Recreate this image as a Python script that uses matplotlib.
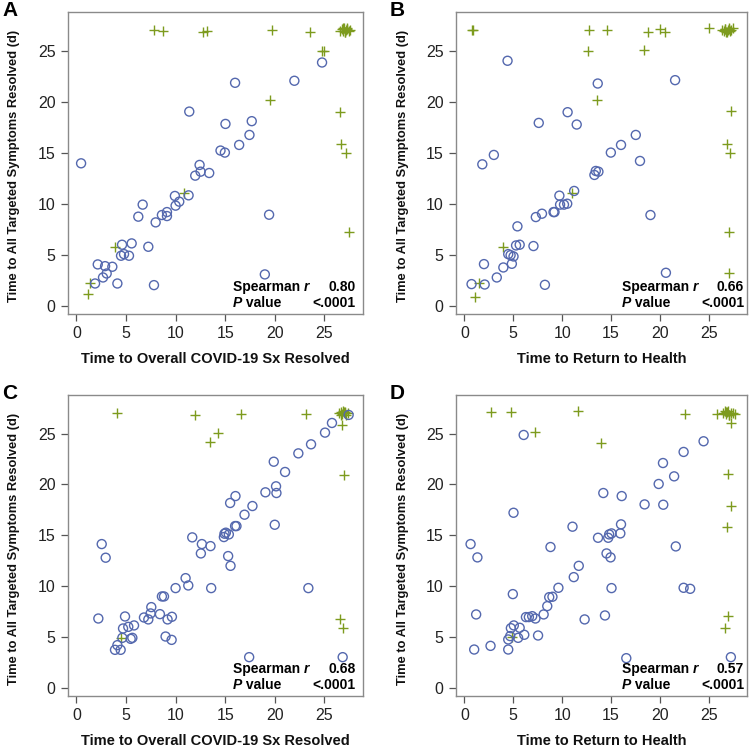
import matplotlib
matplotlib.use("Agg")
import matplotlib.pyplot as plt
from matplotlib.transforms import offset_copy

plt.rcParams['font.family'] = ['Liberation Sans', 'DejaVu Sans']

BLUE = '#5468ae'
GREEN = '#7d9b1e'

# ---- Panel A: Overall COVID-19 Sx resolved vs all targeted symptoms resolved
a_circ_x = [0.47, 2.15, 1.88, 2.89, 2.68, 3.05, 3.62, 4.13, 4.6, 4.5, 4.8, 5.3, 5.57, 6.24,
            6.68, 7.25, 7.82, 7.99, 8.62, 9.13, 9.13, 9.93, 10.0, 10.37, 11.31, 11.38, 11.98,
            12.42, 12.52, 13.39, 14.53, 14.97, 15.03, 16.0, 16.41, 17.45, 17.68, 19.43, 19.0,
            21.98, 24.77]
a_circ_y = [13.97, 4.06, 2.19, 3.89, 2.78, 3.17, 3.83, 2.19, 5.99, 4.91, 5.07, 4.91, 6.12, 8.74,
            9.92, 5.79, 2.03, 8.18, 8.9, 9.19, 8.8, 10.77, 9.82, 10.21, 10.83, 19.04, 12.76,
            13.81, 13.15, 13.02, 15.22, 15.02, 17.83, 21.86, 15.77, 16.75, 18.1, 8.93, 3.08,
            22.06, 23.85]
a_plus_x = [7.82, 8.69, 12.75, 13.12, 19.7, 23.52, 24.73, 24.93, 19.56, 26.54, 26.71, 27.21,
            27.45, 3.89, 1.38, 1.21, 10.87,
            26.6, 26.75, 26.9, 27.0, 27.1, 27.2, 27.3, 27.45, 27.6, 26.85, 27.05, 27.25]
a_plus_y = [27.0, 26.93, 26.83, 26.9, 27.0, 26.83, 25.0, 25.0, 20.19, 19.01, 15.87, 14.99,
            7.23, 5.79, 2.19, 1.15, 11.03,
            26.9, 27.1, 26.95, 27.2, 26.85, 27.05, 27.15, 26.95, 27.0, 27.25, 26.8, 27.2]

# ---- Panel B: Return to health vs all targeted symptoms resolved
b_circ_x = [0.74, 1.84, 2.01, 2.08, 3.02, 3.32, 3.99, 4.42, 4.49, 4.73, 5.03, 4.86, 5.43, 5.29,
            5.66, 7.07, 7.31, 7.61, 7.94, 8.24, 9.12, 9.22, 9.72, 9.79, 10.19, 10.52, 10.56,
            11.23, 11.49, 13.3, 13.44, 13.71, 13.64, 14.98, 16.02, 17.53, 17.96, 19.03, 20.61,
            21.55]
b_circ_y = [2.13, 13.87, 4.09, 2.09, 14.79, 2.78, 3.76, 24.02, 5.07, 4.97, 4.84, 4.12, 7.79, 5.92,
            5.99, 5.86, 8.7, 17.93, 9.03, 2.06, 9.19, 9.19, 10.8, 9.92, 9.92, 10.01, 18.98,
            11.26, 17.77, 12.83, 13.22, 13.15, 21.79, 15.02, 15.77, 16.75, 14.2, 8.9, 3.24,
            22.12]
b_plus_x = [0.74, 0.9, 12.73, 12.67, 14.54, 13.57, 18.73, 18.4, 20.04, 20.48, 24.97, 27.45,
            27.28, 26.81, 27.21, 27.08, 27.04, 3.95, 1.51, 1.07, 10.99,
            26.3, 26.5, 26.65, 26.8, 26.95, 27.05, 27.15, 27.3, 26.6, 26.9, 27.1]
b_plus_y = [27.0, 27.0, 27.0, 25.0, 27.0, 20.19, 26.83, 25.1, 27.13, 26.83, 27.23, 27.23,
            19.11, 15.84, 14.99, 7.2, 3.24, 5.79, 2.26, 0.85, 11.03,
            27.0, 26.9, 27.1, 26.85, 27.05, 27.2, 26.9, 27.0, 27.15, 26.8, 27.1]

# ---- Panel C
c_circ_x = [2.21, 2.55, 2.95, 3.89, 4.13, 4.46, 4.63, 4.7, 4.9, 5.23, 5.47, 5.64, 5.81, 6.81,
            7.25, 7.48, 7.55, 8.42, 8.62, 8.83, 8.99, 9.19, 9.63, 9.6, 10.0, 11.01, 11.28,
            11.68, 12.65, 12.55, 13.52, 13.59, 14.87, 14.93, 15.07, 15.37, 15.3, 15.54, 15.5,
            16.0, 16.14, 16.04, 16.95, 17.75, 17.42, 19.06, 20.0, 20.17, 20.13, 19.9, 21.04,
            22.38, 23.39, 23.66, 25.07, 25.77, 27.45, 26.85]
c_circ_y = [6.82, 14.14, 12.8, 3.74, 4.2, 3.74, 4.92, 5.84, 7.02, 6.0, 4.82, 4.92, 6.14, 6.92,
            6.73, 7.32, 7.94, 7.25, 8.99, 8.99, 5.05, 6.73, 6.99, 4.72, 9.81, 10.79, 10.07,
            14.8, 14.14, 13.22, 13.94, 9.81, 14.83, 15.16, 15.26, 15.09, 12.96, 12.0, 18.18,
            15.91, 15.91, 18.86, 17.03, 17.88, 3.02, 19.23, 16.04, 19.16, 19.82, 22.24, 21.23,
            23.06, 9.81, 23.95, 25.1, 26.05, 26.84, 3.02]
c_plus_x = [4.13, 11.95, 16.61, 23.12, 13.49, 14.23, 26.74, 26.95, 26.54, 26.88, 4.5,
            26.5, 26.65, 26.8, 26.95, 27.05, 27.2, 27.35, 26.7, 26.9, 27.1]
c_plus_y = [27.0, 26.84, 26.94, 26.94, 24.21, 25.1, 25.89, 20.9, 6.82, 5.91, 4.92,
            27.0, 27.1, 26.9, 27.15, 27.0, 26.85, 27.05, 26.8, 27.2, 27.1]

# ---- Panel D
d_circ_x = [0.64, 1.01, 1.21, 1.34, 2.68, 4.49, 4.49, 4.69, 4.76, 5.03, 4.96, 5.06, 5.5, 5.66,
            6.07, 6.13, 6.3, 6.6, 6.94, 7.27, 7.54, 8.11, 8.48, 8.68, 9.01, 8.81, 9.62, 11.06,
            11.19, 11.7, 12.3, 13.67, 14.21, 14.38, 14.54, 14.71, 14.81, 15.05, 14.95, 15.05,
            16.02, 15.95, 16.09, 16.56, 18.43, 19.87, 20.31, 20.34, 21.45, 21.62, 22.42, 22.42,
            23.09, 24.46, 27.25]
d_circ_y = [14.14, 3.77, 7.22, 12.83, 4.13, 3.77, 4.76, 5.09, 5.87, 17.22, 9.22, 6.14, 4.92, 5.91,
            24.87, 5.22, 6.96, 6.96, 7.05, 6.82, 5.15, 7.22, 8.04, 8.92, 8.96, 13.85, 9.84, 15.85,
            10.89, 12.0, 6.73, 14.76, 19.16, 7.12, 13.22, 14.76, 15.09, 15.19, 12.83, 9.81,
            16.08, 15.19, 18.86, 2.92, 18.04, 20.05, 22.11, 18.01, 20.8, 13.91, 23.2, 9.84,
            9.74, 24.25, 3.02]
d_plus_x = [2.75, 4.79, 11.6, 7.2, 13.94, 22.55, 25.87, 27.25, 26.98, 27.25, 26.85, 26.98,
            26.61, 4.86,
            26.4, 26.6, 26.75, 26.9, 27.0, 27.1, 27.25, 27.45, 27.7, 26.8, 27.05]
d_plus_y = [27.13, 27.1, 27.2, 25.16, 24.08, 26.97, 26.97, 26.08, 21.06, 17.88, 15.85, 7.02,
            5.84, 4.99,
            27.0, 27.2, 26.9, 27.1, 27.25, 26.85, 27.0, 27.05, 26.95, 27.15, 26.8]

panels = [
    ('A', a_circ_x, a_circ_y, a_plus_x, a_plus_y, 'Time to Overall COVID-19 Sx Resolved', '0.80'),
    ('B', b_circ_x, b_circ_y, b_plus_x, b_plus_y, 'Time to Return to Health', '0.66'),
    ('C', c_circ_x, c_circ_y, c_plus_x, c_plus_y, 'Time to Overall COVID-19 Sx Resolved', '0.68'),
    ('D', d_circ_x, d_circ_y, d_plus_x, d_plus_y, 'Time to Return to Health', '0.57'),
]
pvalue = '<.0001'
ylabel = 'Time to All Targeted Symptoms Resolved (d)'
ticks = [0, 5, 10, 15, 20, 25]

W, H = 753, 748
fig = plt.figure(figsize=(W / 100, H / 100), dpi=100)

# axes frames in pixels: (left, top, right, bottom)
frames = [(68, 12, 363, 314), (456, 12, 747, 314),
          (68, 395, 363, 696), (456, 395, 747, 696)]
text_pos = [(0.56, 0.976), (0.57, 0.99), (0.56, 0.976), (0.57, 0.99)]

axes = []
for (letter, cx, cy, px, py, xlabel, rval), (l, t, r, b), (tx, vx) in zip(panels, frames, text_pos):
    ax = fig.add_axes([l / W, 1 - b / H, (r - l) / W, (b - t) / H])
    axes.append(ax)
    ax.scatter(px, py, marker='+', s=55, color=GREEN, linewidths=1.0, zorder=2)
    ax.scatter(cx, cy, marker='o', s=42, facecolors='none', edgecolors=BLUE,
               linewidths=1.0, zorder=3)
    ax.set_xlim(-0.85, 28.9)
    ax.set_ylim(-0.8, 28.8)
    ax.set_xticks(ticks)
    ax.set_yticks(ticks)
    ax.tick_params(direction='out', length=5, width=0.9, color='#555555',
                   labelsize=11.5, labelcolor='#222222', pad=4)
    for sp in ax.spines.values():
        sp.set_color('#8a8a8a')
        sp.set_linewidth(1.0)
    ax.set_xlabel(xlabel, fontsize=10.5, fontweight='bold', color='#111111')
    ax.xaxis.set_label_coords(0.5, -0.125)
    ax.set_ylabel(ylabel, fontsize=9.3, fontweight='bold', color='#111111')
    ax.yaxis.set_label_coords(-0.163, 0.49)

    t1 = ax.text(tx, 0.089, 'Spearman ', transform=ax.transAxes, fontsize=10,
                 fontweight='bold', ha='left', va='center')
    ax.text(vx, 0.089, rval, transform=ax.transAxes, fontsize=10, fontweight='bold',
            ha='right', va='center')
    t2 = ax.text(tx, 0.036, 'P', transform=ax.transAxes, fontsize=10, fontweight='bold',
                 style='italic', ha='left', va='center')
    ax.text(vx, 0.036, pvalue, transform=ax.transAxes, fontsize=10, fontweight='bold',
            ha='right', va='center')
    ax._stat_texts = (t1, t2, tx)

    fig.text((l - 66) / W, 1 - 10 / H - (t - 12) / H, letter, fontsize=15,
             fontweight='bold', ha='left', va='center')

# italic pieces placed after measuring the bold text
fig.canvas.draw()
renderer = fig.canvas.get_renderer()
for ax in axes:
    t1, t2, tx = ax._stat_texts
    w1 = t1.get_window_extent(renderer).width
    w2 = t2.get_window_extent(renderer).width
    ax.text(tx, 0.089, 'r', fontsize=10, fontweight='bold', style='italic', ha='left',
            va='center', transform=offset_copy(ax.transAxes, fig=fig, x=w1, y=0, units='dots'))
    ax.text(tx, 0.036, ' value', fontsize=10, fontweight='bold', ha='left', va='center',
            transform=offset_copy(ax.transAxes, fig=fig, x=w2, y=0, units='dots'))

fig.savefig('out.png', dpi=100)
